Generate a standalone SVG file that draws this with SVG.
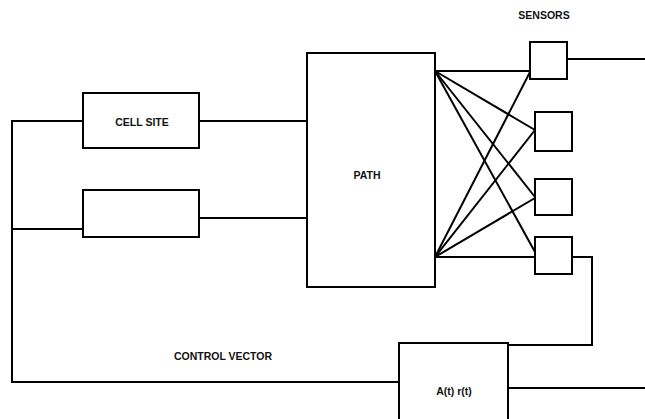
<svg xmlns="http://www.w3.org/2000/svg" width="645" height="419" viewBox="0 0 645 419">
  <style>
    .box { fill: #fff; stroke: #000; stroke-width: 2; }
    .wire { fill: none; stroke: #000; stroke-width: 2; }
    .lbl { font-family: "Liberation Sans", Arial, sans-serif; font-size: 10.5px; font-weight: bold; fill: #111; text-anchor: middle; }
  </style>
  <rect width="645" height="419" fill="#fff"/>

  <g id="connectors">
    <!-- control bus on the left -->
    <polyline class="wire" points="83,121 12,121 12,382 399,382"/>
    <line class="wire" x1="12" y1="229" x2="83" y2="229"/>
    <!-- cell sites to path -->
    <line class="wire" x1="199" y1="121" x2="309" y2="121"/>
    <line class="wire" x1="199" y1="218" x2="307" y2="218"/>
    <!-- path fan-out to sensors -->
    <line class="wire" x1="435" y1="71" x2="533" y2="71"/>
    <line class="wire" x1="435" y1="71" x2="535" y2="130"/>
    <line class="wire" x1="435" y1="71" x2="535" y2="197"/>
    <line class="wire" x1="435" y1="71" x2="535" y2="252"/>
    <line class="wire" x1="435" y1="257" x2="530" y2="72"/>
    <line class="wire" x1="435" y1="257" x2="535" y2="130"/>
    <line class="wire" x1="435" y1="257" x2="535" y2="198"/>
    <line class="wire" x1="435" y1="257" x2="535" y2="257"/>
    <!-- sensor outputs -->
    <line class="wire" x1="567" y1="59" x2="645" y2="59"/>
    <polyline class="wire" points="572,257 592,257 592,345 508,345"/>
    <line class="wire" x1="508" y1="388" x2="645" y2="388"/>
  </g>

  <g id="cell-site">
    <rect class="box" x="83" y="93" width="116" height="55"/>
    <text class="lbl" x="142" y="126">CELL SITE</text>
  </g>
  <g id="cell-site-2">
    <rect class="box" x="83" y="190" width="116" height="47"/>
  </g>
  <g id="path">
    <rect class="box" x="307" y="53" width="128" height="234"/>
    <text class="lbl" x="367" y="179">PATH</text>
  </g>
  <g id="sensor-1">
    <rect class="box" x="530" y="42" width="37" height="37"/>
  </g>
  <g id="sensor-2">
    <rect class="box" x="535" y="112" width="37" height="39"/>
  </g>
  <g id="sensor-3">
    <rect class="box" x="535" y="179" width="37" height="36"/>
  </g>
  <g id="sensor-4">
    <rect class="box" x="535" y="237" width="37" height="37"/>
  </g>
  <g id="estimator">
    <rect class="box" x="399" y="343" width="109" height="90"/>
    <text class="lbl" x="454" y="395">A(t) r(t)</text>
  </g>
  <text id="sensors-label" class="lbl" x="544" y="19">SENSORS</text>
  <text id="control-vector-label" class="lbl" x="223" y="360">CONTROL VECTOR</text>
</svg>
